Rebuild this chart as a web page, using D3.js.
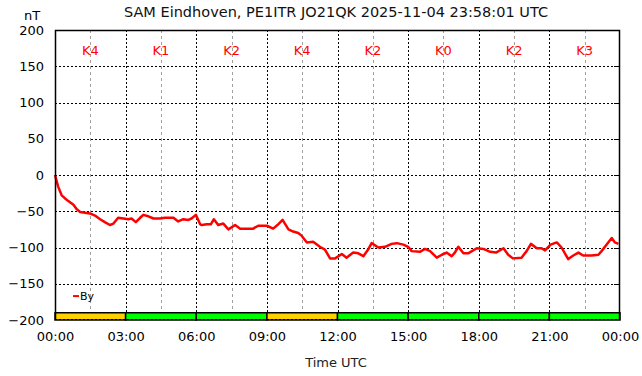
<!DOCTYPE html>
<html>
<head>
<meta charset="utf-8">
<script src="https://cdn.jsdelivr.net/npm/d3@7"></script>
<style>
  body { margin: 0; background: #fff; }
  text { font-family: "DejaVu Sans", sans-serif; }
</style>
</head>
<body>
<div id="chart"></div>
<script>
// By component, minutes after 00:00 UTC and nT
var byMinutes = [0, 8, 17, 25, 34, 47, 55, 64, 89, 102, 115, 127, 140, 149, 161, 174, 187, 195, 206, 217, 225, 238, 251, 268, 280, 302, 314, 327, 340, 348, 359, 370,
    374, 387, 397, 405, 416, 429, 442, 459, 472, 484, 505, 518, 540, 556, 567, 580, 595, 607, 620, 629, 642, 658, 675, 688, 701, 714,
    731, 743, 760, 773, 786, 799, 807, 824, 841, 858, 871, 888, 900, 909, 930, 943, 956, 973, 986, 998, 1011, 1019, 1028, 1041, 1053,
    1075, 1092, 1109, 1124, 1143, 1155, 1167, 1189, 1202, 1213, 1228, 1240, 1249, 1263, 1279, 1291, 1308, 1321, 1334, 1346, 1368, 1385, 1393, 1406, 1419, 1427, 1436];
var byValues = [0, -16, -28, -32, -36, -41, -47, -51, -53, -56, -61, -65, -69, -67, -59, -60, -61, -60, -65, -59, -55, -57, -60, -60, -59, -59, -64, -61, -62, -60, -55, -68,
    -69, -68, -68, -61, -69, -67, -75, -69, -74, -74, -74, -70, -70, -74, -69, -62, -75, -78, -80, -84, -93, -92, -99, -103, -115, -115,
    -109, -114, -107, -108, -112, -102, -94, -100, -99, -95, -94, -96, -99, -105, -106, -102, -105, -114, -110, -107, -112, -107, -99, -108, -108,
    -101, -102, -106, -107, -101, -110, -115, -114, -105, -95, -101, -101, -104, -96, -93, -100, -116, -111, -107, -111, -111, -110, -105, -96, -87, -93, -95];

// K index per 3 hour block
var kLabels = ["K4", "K1", "K2", "K4", "K2", "K0", "K2", "K3"];
var kValues = [4, 1, 2, 4, 2, 0, 2, 3];

var yTicks = [-200, -150, -100, -50, 0, 50, 100, 150, 200];

var width = 642, height = 376;
var margin = { top: 30, right: 22, bottom: 56, left: 55 };
var w = width - margin.left - margin.right,
    h = height - margin.top - margin.bottom;

var t0 = new Date(Date.UTC(2025, 10, 4, 0, 0));
var t1 = new Date(Date.UTC(2025, 10, 5, 0, 0));
function toDate(m) { return new Date(t0.getTime() + m * 60000); }

var x = d3.scaleUtc().domain([t0, t1]).range([0, w]);
var y = d3.scaleLinear().domain([-200, 200]).range([h, 0]);

var svg = d3.select("#chart").append("svg")
    .attr("width", width)
    .attr("height", height);

svg.append("text")
    .attr("x", 336).attr("y", 17)
    .attr("text-anchor", "middle")
    .attr("font-size", 14.5)
    .attr("fill", "#111")
    .text("SAM Eindhoven, PE1ITR JO21QK 2025-11-04 23:58:01 UTC");

svg.append("text")
    .attr("x", 32).attr("y", 20)
    .attr("text-anchor", "middle")
    .attr("font-size", 13)
    .text("nT");

svg.append("text")
    .attr("x", 336).attr("y", 367)
    .attr("text-anchor", "middle")
    .attr("font-size", 13)
    .attr("fill", "#222")
    .text("Time UTC");

var g = svg.append("g")
    .attr("transform", "translate(" + margin.left + "," + margin.top + ")");

var majorTicks = x.ticks(d3.utcHour.every(3));
var minorTicks = d3.range(90, 1440, 180).map(toDate);

// grey minor grid
g.selectAll(".minor")
    .data(minorTicks)
    .enter().append("line")
    .attr("x1", function (d) { return Math.round(x(d)) + 0.5; })
    .attr("x2", function (d) { return Math.round(x(d)) + 0.5; })
    .attr("y1", 0).attr("y2", h)
    .attr("stroke", "#a0a0a0")
    .attr("stroke-dasharray", "3,3");

// black dotted major grid
g.selectAll(".vmajor")
    .data(majorTicks.slice(1, -1))
    .enter().append("line")
    .attr("x1", function (d) { return Math.round(x(d)) + 0.5; })
    .attr("x2", function (d) { return Math.round(x(d)) + 0.5; })
    .attr("y1", 0).attr("y2", h)
    .attr("stroke", "#000")
    .attr("stroke-dasharray", "2,2");

g.selectAll(".hmajor")
    .data(yTicks.slice(1, -1))
    .enter().append("line")
    .attr("x1", 0).attr("x2", w)
    .attr("y1", function (d) { return Math.round(y(d)) + 0.5; })
    .attr("y2", function (d) { return Math.round(y(d)) + 0.5; })
    .attr("stroke", "#000")
    .attr("stroke-dasharray", "2,2");

// K labels
g.selectAll(".klab")
    .data(kLabels)
    .enter().append("text")
    .attr("x", function (d, i) { return x(toDate(i * 180 + 90)); })
    .attr("y", 25)
    .attr("text-anchor", "middle")
    .attr("font-size", 13)
    .attr("fill", "#ff0000")
    .text(function (d) { return d; });

// K bar at the bottom
g.selectAll(".kbar")
    .data(kValues)
    .enter().append("rect")
    .attr("x", function (d, i) { return x(toDate(i * 180)); })
    .attr("width", function (d, i) { return x(toDate(i * 180 + 180)) - x(toDate(i * 180)); })
    .attr("y", y(-190))
    .attr("height", y(-200) - y(-190))
    .attr("fill", function (d) { return d >= 4 ? "#ffd000" : "#00ff00"; })
    .attr("stroke", "#000")
    .attr("stroke-width", 1.5);

g.append("line")
    .attr("x1", 0).attr("x2", w)
    .attr("y1", h - 0.5).attr("y2", h - 0.5)
    .attr("stroke", "#000")
    .attr("stroke-dasharray", "2,2");

// By line
var pts = byMinutes.map(function (m, i) { return [toDate(m), byValues[i]]; });
var line = d3.line()
    .x(function (d) { return x(d[0]); })
    .y(function (d) { return y(d[1]); });

g.append("path")
    .datum(pts)
    .attr("fill", "none")
    .attr("stroke", "#ff0000")
    .attr("stroke-width", 2.5)
    .attr("stroke-linejoin", "round")
    .attr("d", line);

// legend
g.append("line")
    .attr("x1", 18).attr("x2", 24)
    .attr("y1", y(-167)).attr("y2", y(-167))
    .attr("stroke", "#ff0000")
    .attr("stroke-width", 2);
g.append("text")
    .attr("x", 25).attr("y", y(-167) + 4)
    .attr("font-size", 11)
    .text("By");

// frame
g.append("path")
    .attr("d", "M0.5," + h + "V0.5H" + (w - 0.5) + "V" + h)
    .attr("fill", "none")
    .attr("stroke", "#000")
    .attr("stroke-width", 1.5);

// axes
var xAxis = g.append("g")
    .attr("transform", "translate(0," + h + ")")
    .call(d3.axisBottom(x).tickValues(majorTicks).tickFormat(d3.utcFormat("%H:%M")).tickSize(0).tickPadding(12));
xAxis.select(".domain").remove();
xAxis.selectAll("text").attr("font-size", 13).attr("fill", "#000")
    .style("font-family", "DejaVu Sans, sans-serif");

var yAxis = g.append("g")
    .call(d3.axisLeft(y).tickValues(yTicks).tickSize(0).tickPadding(11));
yAxis.select(".domain").remove();
yAxis.selectAll("text").attr("font-size", 13).attr("fill", "#000")
    .style("font-family", "DejaVu Sans, sans-serif");

// small inner tick marks on the right edge
g.selectAll(".rtick")
    .data(yTicks.slice(1, -1))
    .enter().append("line")
    .attr("x1", w - 6).attr("x2", w)
    .attr("y1", function (d) { return Math.round(y(d)) + 0.5; })
    .attr("y2", function (d) { return Math.round(y(d)) + 0.5; })
    .attr("stroke", "#000");
</script>
</body>
</html>
